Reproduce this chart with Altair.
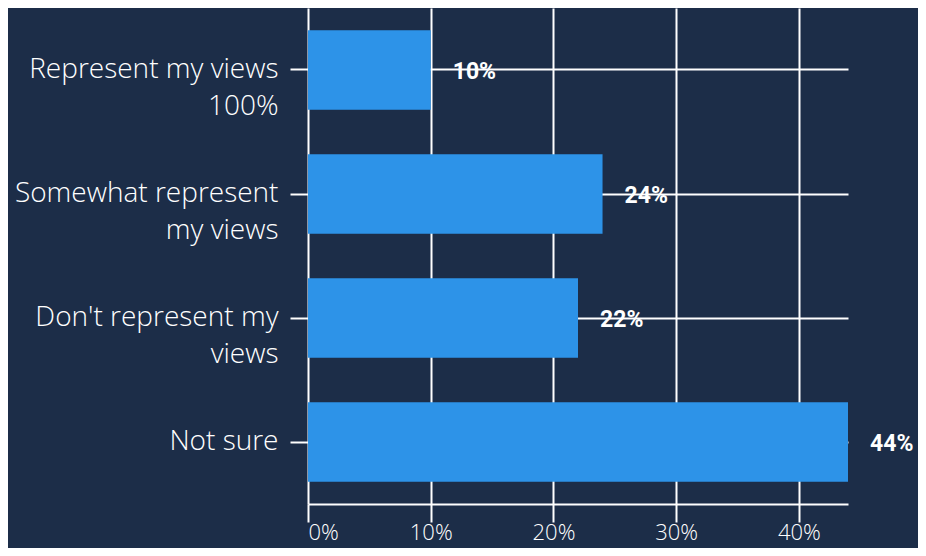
import altair as alt
import pandas as pd

categories = ["Represent my views|100%", "Somewhat represent|my views", "Don't represent my|views", "Not sure"]
values = [10, 24, 22, 44]
value_labels = ["10%", "24%", "22%", "44%"]

df = pd.DataFrame({"cat": categories, "val": values, "lab": value_labels})

BG = "#1c2d48"
BAR = "#2d93e8"
FONT = "Open Sans"

y_enc = alt.Y(
    "cat:N",
    sort=None,
    title=None,
    scale=alt.Scale(paddingInner=0.36, paddingOuter=0.18),
    axis=alt.Axis(
        labelExpr="split(datum.label, '|')",
        labelFont=FONT,
        labelFontWeight=300,
        labelFontSize=28,
        labelColor="white",
        labelLineHeight=37,
        labelPadding=12,
        labelLimit=400,
        tickSize=18,
        tickColor="white",
        tickWidth=2,
        domain=False,
        grid=True,
        gridColor="white",
        gridWidth=2,
        gridOpacity=1,
    ),
)

x_enc = alt.X(
    "val:Q",
    title=None,
    scale=alt.Scale(domain=[0, 44], nice=False),
    axis=alt.Axis(
        values=[0, 10, 20, 30, 40],
        labelExpr="datum.value + '%'",
        labelFont=FONT,
        labelFontWeight=300,
        labelFontSize=22,
        labelColor="white",
        labelPadding=0,
        tickSize=18,
        tickColor="white",
        tickWidth=2,
        domainColor="white",
        domainWidth=2,
        grid=True,
        gridColor="white",
        gridWidth=2,
        gridOpacity=1,
    ),
)

bars = alt.Chart(df).mark_bar(color=BAR).encode(x=x_enc, y=y_enc)

text = alt.Chart(df).mark_text(
    align="left",
    baseline="middle",
    dx=22,
    dy=2,
    font="Roboto",
    fontWeight="bold",
    fontSize=23,
    color="white",
).encode(x="val:Q", y=alt.Y("cat:N", sort=None), text="lab:N")

chart = (
    alt.layer(bars, text)
    .properties(
        width=540,
        height=496,
        background=BG,
        padding={"left": 300, "top": 0, "right": 70, "bottom": 44},
        autosize=alt.AutoSizeParams(type="none"),
    )
    .configure_view(stroke=None)
)

chart.save("out.html", embed_options={"renderer": "svg", "actions": False})
